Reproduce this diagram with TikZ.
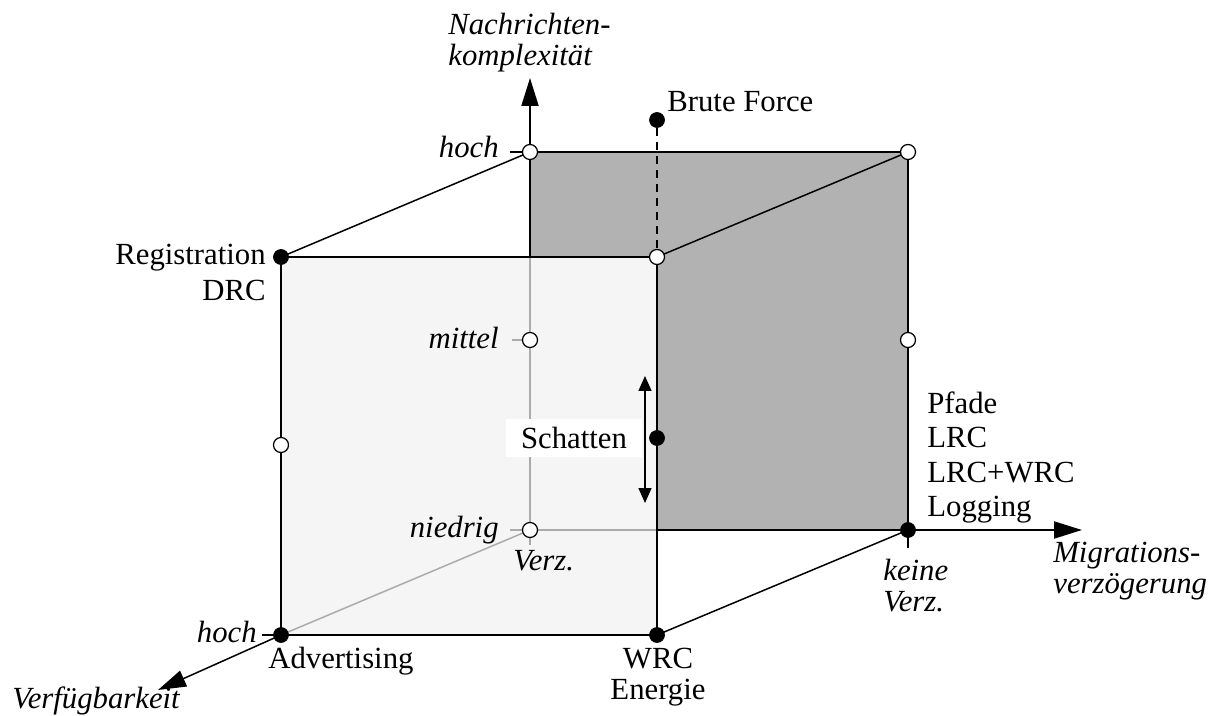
\documentclass[tikz,border=0pt]{standalone}
\usepackage{fontspec}
\setmainfont{Liberation Serif}
\usetikzlibrary{arrows.meta}

\tikzset{
    wdot/.style={circle, draw, line width=0.025cm, fill=white, inner sep=0pt, minimum size=0.3cm},
    bdot/.style={circle, draw, fill=black, inner sep=0pt, minimum size=0.3cm},
    hidden/.style={draw=black!33, line width=0.03cm},
    edge/.style={line width=0.04cm},
    thinedge/.style={line width=0.03cm},
    axis/.style={line width=0.04cm, -{Triangle[length=0.56cm,width=0.34cm]}},
    lbl/.style={font=\fontsize{17.5}{21}\selectfont, inner sep=0pt},
    ilbl/.style={font=\fontsize{17.5}{21}\selectfont\itshape, inner sep=0pt}
}

\begin{document}
\begin{tikzpicture}[x=0.02cm, y=-0.02cm]
        \useasboundingbox (0,0) rectangle (1224,716);
        % Corners of the cube
        \coordinate (reg) at (281,257);
        \coordinate (ftr) at (657,257);
        \coordinate (adv) at (281,635);
        \coordinate (wrc) at (657,635);
        \coordinate (khoch) at (530,152);
        \coordinate (btr) at (908,152);
        \coordinate (kmittel) at (530,340);
        \coordinate (niedrig) at (530,530);
        \coordinate (keine) at (908,530);
        \coordinate (kante) at (530,257);
        \coordinate (boden) at (657,530);
        % Draw the faces
        \fill[black!30] (khoch) rectangle (keine);
        \fill[black!4] (reg) rectangle (wrc);
        % Draw the hidden edges
        \draw[hidden] (niedrig) -- (adv);
        \draw[hidden] (niedrig) -- (kante);
        \draw[hidden] (niedrig) -- (boden);
        \draw[hidden] (kmittel) -- ++(-18,0);
        \draw[hidden] (niedrig) -- ++(-20,0);
        \draw[hidden] (niedrig) -- ++(0,15);
        % Draw the visible edges
        \draw[edge] (reg) rectangle (wrc);
        \draw[edge] (kante) -- (khoch) -- (btr) -- (keine) -- (boden);
        \draw[thinedge] (reg) -- (khoch);
        \draw[thinedge] (ftr) -- (btr);
        \draw[thinedge] (wrc) -- (keine);
        \draw[thinedge] (khoch) -- ++(-20,0);
        \draw[thinedge] (adv) -- ++(-19,0);
        \draw[edge] (keine) -- ++(0,18);
        % Draw the axes
        \coordinate (ztip) at (530,78);
        \coordinate (xtip) at (1082,530);
        \coordinate (ytip) at (158,690);
        \draw[axis] (khoch) -- (ztip);
        \draw[axis] (keine) -- (xtip);
        \draw[axis, line width=0.03cm] (adv) -- (ytip);
        % Brute force and the shadow arrow
        \node[bdot] (brute) at (657,120) {};
        \draw[edge, dash pattern=on 0.16cm off 0.12cm] (brute) -- (ftr);
        \coordinate (soben) at (645,376);
        \coordinate (sunten) at (645,503);
        \draw[thinedge, {Triangle[length=0.3cm,width=0.26cm]}-{Triangle[length=0.3cm,width=0.26cm]}] (soben) -- (sunten);
        \node[lbl, fill=white, minimum width=2.74cm, minimum height=0.78cm] (schatten) at (574,438) {Schatten};
        % Draw the points
        \node[wdot] (p1) at (khoch) {};
        \node[wdot] (p2) at (btr) {};
        \node[bdot] (p3) at (reg) {};
        \node[wdot] (p4) at (ftr) {};
        \node[wdot] (p5) at (kmittel) {};
        \node[wdot] (p6) at (908,340) {};
        \node[wdot] (p7) at (281,445) {};
        \node[bdot] (p8) at (657,438) {};
        \node[wdot] (p9) at (niedrig) {};
        \node[bdot] (p10) at (keine) {};
        \node[bdot] (p11) at (adv) {};
        \node[bdot] (p12) at (wrc) {};
        % Labels
        \node[ilbl, anchor=base west] (zachse1) at (448,35) {Nachrichten-};
        \node[ilbl, anchor=base west] (zachse2) at (448,66) {komplexität};
        \node[lbl, anchor=base west] (brutetxt) at (667,112) {Brute Force};
        \node[ilbl, anchor=base east] (hoch1) at (499,158) {hoch};
        \node[lbl, anchor=base east] (regtxt) at (266,265) {Registration};
        \node[lbl, anchor=base east] (drctxt) at (266,300) {DRC};
        \node[ilbl, anchor=base east] (mittel) at (499,348) {mittel};
        \node[ilbl, anchor=base east] (niedrigtxt) at (499,537) {niedrig};
        \node[ilbl, anchor=base west] (verz1) at (513,570) {Verz.};
        \node[lbl, anchor=base west] (pfade) at (927,413) {Pfade};
        \node[lbl, anchor=base west] (lrc) at (927,447.5) {LRC};
        \node[lbl, anchor=base west] (lrcwrc) at (927,482) {LRC+WRC};
        \node[lbl, anchor=base west] (logging) at (927,516.5) {Logging};
        \node[ilbl, anchor=base west] (keinetxt) at (883,580) {keine};
        \node[ilbl, anchor=base west] (verz2) at (883,611) {Verz.};
        \node[ilbl, anchor=base west] (xachse1) at (1053,562) {Migrations-};
        \node[ilbl, anchor=base west] (xachse2) at (1053,593) {verzögerung};
        \node[ilbl, anchor=base east] (hoch2) at (257,642) {hoch};
        \node[lbl, anchor=base west] (advtxt) at (268,668) {Advertising};
        \node[lbl, anchor=base] (wrctxt) at (658,668) {WRC};
        \node[lbl, anchor=base] (energie) at (658,699) {Energie};
        \node[ilbl, anchor=base west] (yachse) at (12,708) {Verfügbarkeit};
    \end{tikzpicture}
\end{document}
